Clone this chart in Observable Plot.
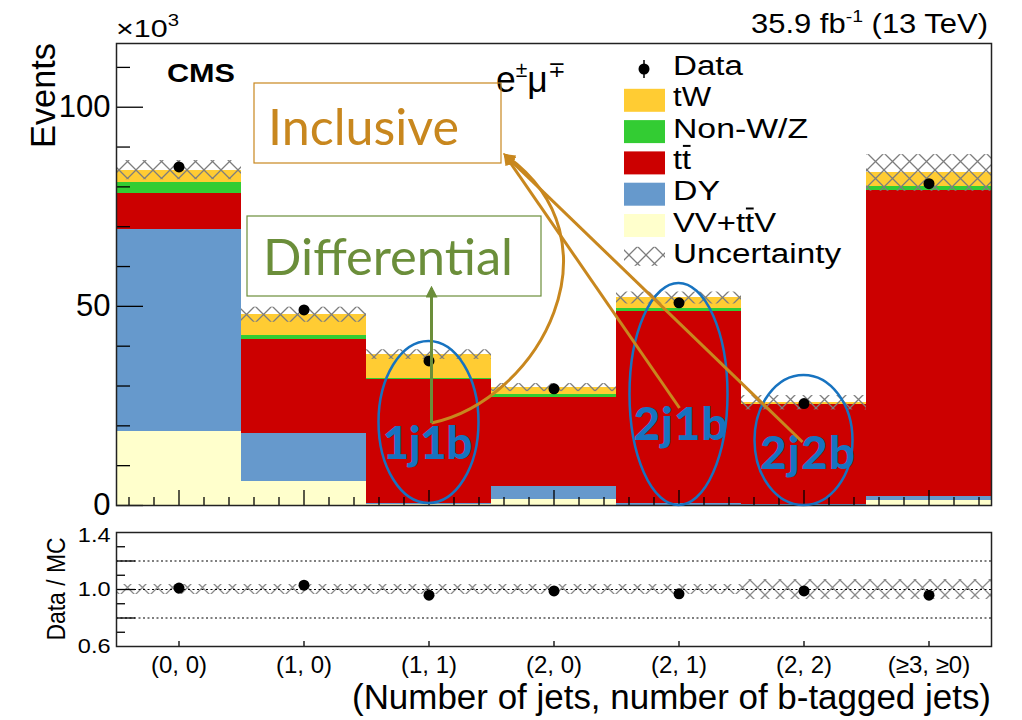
<!DOCTYPE html>
<html>
<head>
<meta charset="utf-8">
<script src="https://cdn.jsdelivr.net/npm/d3@7"></script>
<script src="https://cdn.jsdelivr.net/npm/@observablehq/plot@0.6"></script>
<style>
  body { margin: 0; background: #fff; }
  #chart { position: relative; width: 1022px; height: 720px; overflow: hidden; background: #fff; }
  #chart svg { position: absolute; left: 0; overflow: visible; }
</style>
</head>
<body>
<div id="chart"></div>
<script>
// Bins: (number of jets, number of b-tagged jets)
const categories = ["(0, 0)", "(1, 0)", "(1, 1)", "(2, 0)", "(2, 1)", "(2, 2)", "(\u22653, \u22650)"];

// Stacked simulation, in thousands of events (bottom of the stack first)
const processes = ["VV+ttV", "DY", "tt", "Non-W/Z", "tW"];
const vvttv = [18.5, 6.0, 0.2, 1.5, 0.1, 0.05, 1.2];
const dyEvents = [50.9, 12.0, 0.4, 3.3, 0.3, 0.1, 1.1];
const ttbar = [9.0, 23.8, 31.0, 22.2, 48.2, 25.1, 76.9];
const nonWZ = [2.8, 0.8, 0.3, 0.8, 0.8, 0.1, 0.8];
const tW = [3.0, 5.3, 6.0, 1.8, 2.7, 0.45, 3.5];

// Observed events (thousands) and total-MC uncertainty (thousands)
const dataEvents = [85.0, 49.1, 36.3, 29.3, 50.9, 25.6, 80.8];
const mcUncertainty = [2.4, 1.9, 1.2, 1.0, 1.5, 1.8, 4.6];

// Data / MC ratio and its uncertainty band
const ratioValues = [1.01, 1.03, 0.96, 0.99, 0.97, 0.99, 0.96];
const ratioUncertainty = [0.035, 0.035, 0.035, 0.035, 0.035, 0.07, 0.07];

// Axis tick values
const yMajor = [0, 50, 100];
const ratioLabelTicks = [0.6, 1.0, 1.4];

// Legend entries, top to bottom (U+0304 marks an overlined letter)
const legendLabels = ["Data", "tW", "Non-W/Z", "tt\u0304", "DY", "VV+tt\u0304V", "Uncertainty"];

// ---- styling ----
const processColors = ["#ffffcc", "#6699cc", "#cc0000", "#33cc33", "#ffcc33"];
const legendFills = [null, "#ffcc33", "#33cc33", "#cc0000", "#6699cc", "#ffffcc", "url(#hatchMain)"];
const legendTextWidths = [70, 38, 135, 18, 47, 103, 168];
const HELV = '"Liberation Sans", Arial, Helvetica, sans-serif';
const GILL = 'Lato, "Open Sans", sans-serif';
const ORANGE = "#c8871e", GREEN = "#6b8e3a", BLUE = "#1773c0";

const W = 1022;
const ML = 116, MR = 31;
const frameW = W - ML - MR;

const series = [vvttv, dyEvents, ttbar, nonWZ, tW];
const bins = categories.map((name, i) => ({
  bin: i,
  name,
  total: d3.sum(series, s => s[i]),
  data: dataEvents[i],
  unc: mcUncertainty[i],
  ratio: ratioValues[i],
  ratioUnc: ratioUncertainty[i]
}));
const stackRows = bins.flatMap(b => processes.map((p, k) => ({bin: b.bin, process: p, value: series[k][b.bin]})));

// tick positions: every fifth of a bin, the bin centre being the major one
const xTicks = d3.range(35).map(k => ({v: 0.1 + 0.2 * k, major: k % 5 === 2}));
const xMajor = xTicks.filter(t => t.major).map(t => t.v);
const xMinor = xTicks.filter(t => !t.major).map(t => t.v);
const yMinor = d3.range(10, 116, 10).filter(v => v % 50 !== 0);

// ---- main panel ----
const mainH = 520, mainMT = 43, mainMB = 15;
const mainFrameH = mainH - mainMT - mainMB;
const main = Plot.plot({
  width: W, height: mainH,
  marginLeft: ML, marginRight: MR, marginTop: mainMT, marginBottom: mainMB,
  style: {fontFamily: HELV, color: "#000", background: "transparent", overflow: "visible"},
  x: {domain: [0, 7], axis: null},
  y: {domain: [0, 116], axis: null},
  color: {domain: processes, range: processColors},
  marks: [
    Plot.rectY(stackRows, {x1: "bin", x2: d => d.bin + 1, y: "value", fill: "process", order: processes, shapeRendering: "crispEdges"}),
    Plot.rect(bins, {x1: "bin", x2: d => d.bin + 1, y1: d => d.total - d.unc, y2: d => d.total + d.unc, fill: "url(#hatchMain)"}),
    Plot.dot(bins, {x: d => d.bin + 0.5, y: "data", r: 5.5, fill: "#000"}),
    Plot.tickY(yMajor, {y: d => d, insetRight: frameW - 27, stroke: "#000", strokeWidth: 1.3}),
    Plot.tickY(yMinor, {y: d => d, insetRight: frameW - 14, stroke: "#000", strokeWidth: 1.3}),
    Plot.tickX(xMajor, {x: d => d, insetTop: mainFrameH - 15, stroke: "#000", strokeWidth: 1.3}),
    Plot.tickX(xMinor, {x: d => d, insetTop: mainFrameH - 8, stroke: "#000", strokeWidth: 1.3}),
    Plot.axisY({ticks: yMajor, tickSize: 0, tickPadding: 6, fontSize: 30, label: null}),
    Plot.frame({stroke: "#222", strokeWidth: 1.5})
  ]
});
main.style.top = "0px";

// ---- ratio panel ----
const ratioH = 200, ratioMT = 12, ratioMB = 74;
const ratioFrameH = ratioH - ratioMT - ratioMB;
const ratioPlot = Plot.plot({
  width: W, height: ratioH,
  marginLeft: ML, marginRight: MR, marginTop: ratioMT, marginBottom: ratioMB,
  style: {fontFamily: HELV, color: "#000", background: "transparent", overflow: "visible"},
  x: {domain: [0, 7], axis: null},
  y: {domain: [0.6, 1.4], axis: null},
  marks: [
    Plot.rect(bins, {x1: "bin", x2: d => d.bin + 1, y1: d => 1 - d.ratioUnc, y2: d => 1 + d.ratioUnc, fill: "url(#hatchRatio)"}),
    Plot.ruleY([0.8, 1.0, 1.2], {stroke: "#000", strokeWidth: 1.2, strokeDasharray: "2,2.5"}),
    Plot.dot(bins, {x: d => d.bin + 0.5, y: "ratio", r: 5.5, fill: "#000"}),
    Plot.tickY([0.8, 1.0, 1.2], {y: d => d, insetRight: frameW - 19, stroke: "#000", strokeWidth: 1.3}),
    Plot.tickY([0.7, 0.9, 1.1, 1.3], {y: d => d, insetRight: frameW - 9, stroke: "#000", strokeWidth: 1.3}),
    Plot.tickX(xMajor, {x: d => d, insetTop: ratioFrameH - 5, stroke: "#000", strokeWidth: 1.3}),
    Plot.axisY({ticks: ratioLabelTicks, tickFormat: d3.format(".1f"), tickSize: 0, tickPadding: 6, fontSize: 23, label: null}),
    Plot.axisX({ticks: xMajor, tickFormat: d => categories[Math.floor(d)], tickSize: 0, tickPadding: 9, fontSize: 25, label: null}),
    Plot.frame({stroke: "#222", strokeWidth: 1.5})
  ]
});
ratioPlot.style.top = "520px";

const chart = document.getElementById("chart");
chart.append(main, ratioPlot);

// tick-label type: force the size and the slightly wide ROOT lettering
function styleTickLabels(svg, label, size, stretch) {
  d3.select(svg).selectAll(`g[aria-label="${label}"] text`).each(function () {
    const t = d3.select(this).style("font-size", size + "px").attr("font-size", size);
    const len = this.getComputedTextLength();
    t.attr("textLength", len * stretch).attr("lengthAdjust", "spacingAndGlyphs");
  });
}
styleTickLabels(main, "y-axis tick label", 31, 1.0);
styleTickLabels(ratioPlot, "y-axis tick label", 21, 1.12);
styleTickLabels(ratioPlot, "x-axis tick label", 24, 1.0);
// keep the top ratio label clear of the main panel's zero
d3.select(ratioPlot).selectAll('g[aria-label="y-axis tick label"] text')
  .filter(function () { return this.textContent === "1.4"; })
  .attr("transform", function () { return (this.getAttribute("transform") || "") + " translate(0,3)"; });

// ---- overlay: patterns, titles, legend, annotations ----
const overlay = d3.create("svg")
  .attr("width", W).attr("height", 720)
  .style("top", "0px").style("pointer-events", "none");
chart.append(overlay.node());

const defs = overlay.append("defs");
const hatch = (id, size, color) => defs.append("pattern")
  .attr("id", id).attr("patternUnits", "userSpaceOnUse")
  .attr("width", size).attr("height", size)
  .append("path")
  .attr("d", `M0,0L${size},${size}M${size},0L0,${size}`)
  .attr("stroke", color).attr("stroke-width", 1.3).attr("fill", "none");
hatch("hatchMain", 17, "#7d7d7d");
hatch("hatchRatio", 15, "#8a8a8a");
const arrowHead = (id, color) => defs.append("marker")
  .attr("id", id).attr("viewBox", "0 0 10 10").attr("refX", 8).attr("refY", 5)
  .attr("markerWidth", 4).attr("markerHeight", 4).attr("orient", "auto")
  .append("path").attr("d", "M0,0L10,5L0,10z").attr("fill", color);
arrowHead("arrowOrange", ORANGE);
arrowHead("arrowGreen", GREEN);

function addText(x, y, parts, o = {}) {
  const t = overlay.append("text")
    .attr("x", x).attr("y", y)
    .attr("font-family", o.family || HELV)
    .attr("font-size", o.size || 27)
    .attr("font-weight", o.weight || "normal")
    .attr("fill", o.fill || "#000")
    .attr("text-anchor", o.anchor || "start");
  if (o.rotate) t.attr("transform", `rotate(${o.rotate},${x},${y})`);
  if (o.length) t.attr("textLength", o.length).attr("lengthAdjust", o.adjust || "spacingAndGlyphs");
  for (const p of [].concat(parts)) {
    if (typeof p === "string") t.append("tspan").text(p);
    else {
      const s = t.append("tspan").text(p.text);
      if (p.size) s.attr("font-size", p.size);
      if (p.dy) s.attr("dy", p.dy);
      if (p.dx) s.attr("dx", p.dx);
    }
  }
  return t;
}

const xs = main.scale("x");

// headers
addText(ML, 37, ["\u00d710", {text: "3", size: 16, dy: -11}], {size: 24, length: 63});
addText(167, 82, "CMS", {size: 25, weight: "bold", length: 68});
addText(496, 92, ["e", {text: "\u00b1", size: 22, dy: -15}, {text: "\u03bc", dy: 15}, {text: "\u2213", size: 22, dy: -15}], {size: 37, length: 69});
addText(988, 33, ["35.9 fb", {text: "-1", size: 17, dy: -11}, {text: " (13 TeV)", dy: 11}], {size: 27, anchor: "end", length: 237});
addText(55, 43, "Events", {size: 35, anchor: "end", rotate: -90, length: 105});
addText(65, 589, "Data / MC", {size: 26, anchor: "middle", rotate: -90, length: 103});
addText(991, 709, "(Number of jets, number of b-tagged jets)", {size: 35, anchor: "end", length: 639});

// legend
legendLabels.forEach((label, i) => {
  const base = 75 + 31.3 * i;
  const mid = base - 6;
  if (legendFills[i] === null) {
    overlay.append("line").attr("x1", 644).attr("x2", 644).attr("y1", mid - 9).attr("y2", mid + 9)
      .attr("stroke", "#000").attr("stroke-width", 1.5);
    overlay.append("circle").attr("cx", 644).attr("cy", mid).attr("r", 5.5).attr("fill", "#000");
  } else if (i === legendLabels.length - 1) {
    overlay.append("rect").attr("x", 624).attr("y", mid - 10).attr("width", 41).attr("height", 19)
      .attr("fill", legendFills[i]);
  } else {
    overlay.append("rect").attr("x", 624).attr("y", mid - 11.5).attr("width", 41).attr("height", 23)
      .attr("fill", legendFills[i]);
  }
  const plain = label.replace(/\u0304/g, "");
  const bars = [];
  let k = 0;
  for (const ch of label) {
    if (ch === "\u0304") bars.push(k - 1); else k++;
  }
  const t = addText(673, base, plain, {size: 27, length: legendTextWidths[i]});
  for (const j of bars) {
    const e = t.node().getExtentOfChar(j);
    overlay.append("line")
      .attr("x1", e.x + e.width * 0.1).attr("x2", e.x + e.width * 0.95)
      .attr("y1", base - 23).attr("y2", base - 23)
      .attr("stroke", "#000").attr("stroke-width", 2);
  }
});

// annotation boxes
overlay.append("rect").attr("x", 254).attr("y", 83).attr("width", 247).attr("height", 80)
  .attr("fill", "none").attr("stroke", ORANGE).attr("stroke-width", 1.2);
addText(268, 145, "Inclusive", {family: GILL, size: 51, fill: ORANGE, length: 191});
overlay.append("rect").attr("x", 247).attr("y", 216).attr("width", 294).attr("height", 80)
  .attr("fill", "none").attr("stroke", GREEN).attr("stroke-width", 1.2);
addText(263, 275, "Differential", {family: GILL, size: 51, fill: GREEN, length: 250});

// selected bins
const ellipses = [
  {bin: 2, cy: 422, rx: 50, ry: 81, label: "1j1b", lx: -1, ly: 459, len: 90},
  {bin: 4, cy: 394, rx: 49, ry: 111, label: "2j1b", lx: 2, ly: 440, len: 94},
  {bin: 5, cy: 440, rx: 49, ry: 65, label: "2j2b", lx: 4, ly: 469, len: 95}
];
for (const e of ellipses) {
  const cx = xs.apply(e.bin + 0.5);
  overlay.append("ellipse").attr("cx", cx).attr("cy", e.cy).attr("rx", e.rx).attr("ry", e.ry)
    .attr("fill", "none").attr("stroke", BLUE).attr("stroke-width", 2.5);
  addText(cx + e.lx, e.ly, e.label, {family: GILL, size: 46, weight: "900", fill: BLUE, anchor: "middle", length: e.len, adjust: "spacing"});
}

// arrows
const c1 = xs.apply(2.5);
overlay.append("path")
  .attr("d", `M${c1 + 3},423 C540,400 625,240 505,155`)
  .attr("fill", "none").attr("stroke", ORANGE).attr("stroke-width", 3).attr("marker-end", "url(#arrowOrange)");
overlay.append("path")
  .attr("d", `M${xs.apply(4.5) + 1},408 L505,155`)
  .attr("fill", "none").attr("stroke", ORANGE).attr("stroke-width", 3).attr("marker-end", "url(#arrowOrange)");
overlay.append("path")
  .attr("d", `M${xs.apply(5.5) - 1},442 L505,155`)
  .attr("fill", "none").attr("stroke", ORANGE).attr("stroke-width", 3).attr("marker-end", "url(#arrowOrange)");
overlay.append("path")
  .attr("d", `M${c1 + 3},423 L${c1 + 3},288`)
  .attr("fill", "none").attr("stroke", GREEN).attr("stroke-width", 3).attr("marker-end", "url(#arrowGreen)");
</script>
</body>
</html>
